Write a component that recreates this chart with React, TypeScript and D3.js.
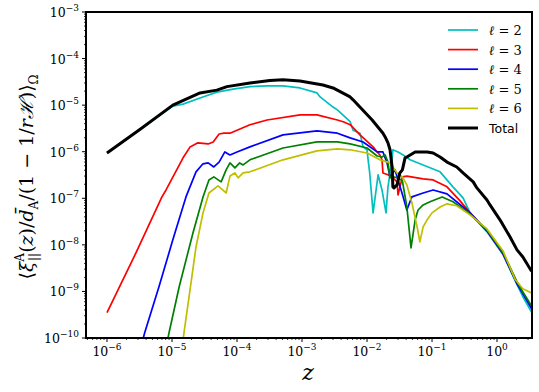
import React from 'react';
import * as d3 from 'd3';

// z grid and values for each multipole
const zL2 = [1.0e-6, 3.2e-6, 1.03e-5, 1.48e-5, 2.7e-5, 4.9e-5, 8.7e-5, 1.58e-4, 2.9e-4, 5.1e-4, 9.3e-4, 1.7e-3, 1.9e-3, 3.0e-3, 3.5e-3, 5.5e-3, 6.1e-3, 7.8e-3, 8.7e-3, 1.0e-2, 1.04e-2, 1.1e-2, 1.24e-2, 1.48e-2, 1.7e-2, 1.96e-2, 2.1e-2, 2.43e-2, 2.5e-2, 3.0e-2, 3.6e-2, 4.6e-2, 7.3e-2, 0.133, 0.21, 0.30, 0.385, 0.70, 1.24, 2.03, 2.5, 3.4];
const xiL2 = [9.4e-7, 3.0e-6, 9.5e-6, 1.05e-5, 1.42e-5, 1.9e-5, 2.2e-5, 2.5e-5, 2.6e-5, 2.6e-5, 2.34e-5, 1.83e-5, 1.5e-5, 9.1e-6, 7.9e-6, 4.4e-6, 2.9e-6, 2.5e-6, 1.27e-6, 1.1e-6, 6.7e-7, 3.5e-7, 4.86e-8, 3.2e-7, 1.51e-7, 4.86e-8, 1.76e-7, 6.7e-7, 1.1e-6, 9.9e-7, 8.5e-7, 6.7e-7, 5.2e-7, 3.7e-7, 1.76e-7, 1.02e-7, 4.86e-8, 1.9e-8, 6.1e-9, 1.4e-9, 7.7e-10, 3.6e-10];

const zL3 = [1.0e-6, 2.8e-6, 7.0e-6, 8.1e-6, 1.48e-5, 1.9e-5, 2.5e-5, 3.6e-5, 4.3e-5, 5.3e-5, 6.3e-5, 7.8e-5, 1.0e-4, 1.58e-4, 2.9e-4, 9.3e-4, 1.7e-3, 3.5e-3, 4.3e-3, 5.5e-3, 7.8e-3, 1.24e-2, 1.43e-2, 1.58e-2, 1.7e-2, 1.76e-2, 2.1e-2, 2.5e-2, 2.9e-2, 3.0e-2, 3.5e-2, 4.1e-2, 7.3e-2, 0.104, 0.17, 0.27, 0.385, 0.70, 1.24, 2.03, 2.5, 3.4];
const xiL3 = [3.5e-10, 6.8e-9, 1.07e-7, 1.51e-7, 7.4e-7, 1.27e-6, 1.55e-6, 1.47e-6, 1.62e-6, 2.4e-6, 2.5e-6, 2.5e-6, 2.9e-6, 3.8e-6, 4.8e-6, 6.2e-6, 6.2e-6, 4.8e-6, 4.4e-6, 3.8e-6, 2.3e-6, 1.27e-6, 9.9e-7, 8.5e-7, 6.7e-7, 3.5e-7, 3.2e-7, 2.74e-7, 2.25e-7, 1.18e-7, 2.88e-7, 3.0e-7, 2.6e-7, 2.48e-7, 1.76e-7, 8.8e-8, 4.86e-8, 2.0e-8, 6.4e-9, 1.53e-9, 9.3e-10, 4.5e-10];

const zL4 = [2.3e-6, 3.8e-6, 6.3e-6, 1.03e-5, 1.64e-5, 2.34e-5, 3.0e-5, 3.6e-5, 4.4e-5, 5.3e-5, 6.5e-5, 7.8e-5, 1.0e-4, 1.58e-4, 5.1e-4, 1.7e-3, 3.5e-3, 5.5e-3, 8.7e-3, 1.43e-2, 1.76e-2, 2.03e-2, 2.26e-2, 2.7e-2, 3.0e-2, 3.6e-2, 4.1e-2, 4.9e-2, 7.3e-2, 0.104, 0.17, 0.30, 0.385, 0.70, 1.24, 2.03, 2.5, 3.4];
const xiL4 = [9e-12, 1.3e-10, 1.26e-9, 1.28e-8, 1.07e-7, 3.7e-7, 5.5e-7, 5.75e-7, 4.7e-7, 6.0e-7, 9.9e-7, 8.5e-7, 9.9e-7, 1.27e-6, 2.3e-6, 2.8e-6, 2.5e-6, 1.98e-6, 1.62e-6, 9.9e-7, 9.9e-7, 5.75e-7, 2.88e-7, 4.07e-7, 2.48e-7, 1.07e-7, 5.6e-8, 1.07e-7, 1.3e-7, 1.51e-7, 1.24e-7, 6.5e-8, 4.86e-8, 2.0e-8, 6.4e-9, 1.45e-9, 8.9e-10, 4.3e-10];

const zL5 = [6e-6, 9.0e-6, 1.29e-5, 2.1e-5, 3.0e-5, 3.7e-5, 4.4e-5, 5.7e-5, 6.8e-5, 7.8e-5, 9.3e-5, 1.1e-4, 1.24e-4, 1.58e-4, 5.1e-4, 1.7e-3, 3.5e-3, 5.5e-3, 1.0e-2, 1.43e-2, 1.7e-2, 1.9e-2, 2.1e-2, 2.26e-2, 2.5e-2, 3.0e-2, 3.5e-2, 4.1e-2, 4.75e-2, 5.5e-2, 6.1e-2, 7.3e-2, 9.3e-2, 0.143, 0.21, 0.35, 0.70, 1.24, 2.03, 2.5, 3.4];
const xiL5 = [7e-12, 1.3e-10, 1.26e-9, 1.8e-8, 1.07e-7, 2.48e-7, 2.88e-7, 2.25e-7, 4.07e-7, 5.75e-7, 4.5e-7, 5.75e-7, 5.2e-7, 6.7e-7, 1.2e-6, 1.62e-6, 1.62e-6, 1.47e-6, 1.2e-6, 8.1e-7, 7.7e-7, 8.5e-7, 6.0e-7, 2.74e-7, 2.88e-7, 2.74e-7, 2.36e-7, 6.5e-8, 8.6e-9, 3.45e-8, 5.6e-8, 7.2e-8, 8.4e-8, 1.07e-7, 8.4e-8, 5.1e-8, 2.1e-8, 6.8e-9, 1.6e-9, 9.7e-10, 4.9e-10];

const zL6 = [1.2e-5, 1.53e-5, 1.82e-5, 2.34e-5, 3.0e-5, 3.7e-5, 5.1e-5, 6.8e-5, 7.8e-5, 9.3e-5, 1.04e-4, 1.24e-4, 1.58e-4, 5.1e-4, 1.7e-3, 3.5e-3, 5.5e-3, 1.0e-2, 1.58e-2, 2.26e-2, 2.9e-2, 3.5e-2, 4.1e-2, 4.9e-2, 5.9e-2, 6.5e-2, 7.3e-2, 8.4e-2, 0.10, 0.133, 0.17, 0.24, 0.385, 0.70, 1.24, 1.9, 2.5, 3.4];
const xiL6 = [9e-12, 1.3e-10, 7.3e-10, 9.0e-9, 4.86e-8, 1.3e-7, 1.85e-7, 1.3e-7, 3.0e-7, 3.5e-7, 2.74e-7, 3.5e-7, 3.7e-7, 6.7e-7, 1.04e-6, 1.15e-6, 1.1e-6, 9.4e-7, 6.7e-7, 5.75e-7, 3.5e-7, 2.88e-7, 1.94e-7, 8.0e-8, 2.43e-8, 1.16e-8, 2.43e-8, 3.45e-8, 4.86e-8, 6.5e-8, 7.6e-8, 6.9e-8, 4.4e-8, 2.2e-8, 7.4e-9, 1.8e-9, 1.14e-9, 9.3e-10];

const zTotal = [1.0e-6, 3.2e-6, 1.03e-5, 2.7e-5, 4.9e-5, 7.0e-5, 1.58e-4, 3.2e-4, 5.1e-4, 9.3e-4, 2.1e-3, 3.0e-3, 5.5e-3, 6.1e-3, 1.2e-2, 1.76e-2, 1.9e-2, 2.1e-2, 2.26e-2, 2.43e-2, 2.5e-2, 2.6e-2, 2.9e-2, 3.2e-2, 3.5e-2, 3.85e-2, 4.1e-2, 5.5e-2, 8.4e-2, 0.104, 0.133, 0.17, 0.24, 0.30, 0.43, 0.49, 0.70, 0.78, 1.11, 1.58, 2.03, 2.5, 3.4];
const xiTotal = [9.4e-7, 3.0e-6, 1.0e-5, 1.83e-5, 2.1e-5, 2.5e-5, 3.0e-5, 3.4e-5, 3.5e-5, 3.3e-5, 2.7e-5, 2.34e-5, 1.5e-5, 1.3e-5, 4.8e-6, 2.5e-6, 2.08e-6, 1.55e-6, 1.1e-6, 4.7e-7, 1.76e-7, 1.67e-7, 1.94e-7, 3.5e-7, 4.07e-7, 7.4e-7, 7.7e-7, 9.9e-7, 9.9e-7, 9.4e-7, 7.7e-7, 6.0e-7, 4.7e-7, 3.5e-7, 2.25e-7, 1.67e-7, 9.2e-8, 7.2e-8, 3.45e-8, 1.49e-8, 7.8e-9, 5.5e-9, 2.7e-9];

const seriesNames = ['2', '3', '4', '5', '6', 'Total'];
const seriesColors = ['#00bfbf', '#ff0000', '#0000ff', '#008000', '#bfbf00', '#000000'];
const seriesWidths = [1.7, 1.7, 1.7, 1.7, 1.7, 3];
const seriesZ = [zL2, zL3, zL4, zL5, zL6, zTotal];
const seriesXi = [xiL2, xiL3, xiL4, xiL5, xiL6, xiTotal];

const xTickExps = [-6, -5, -4, -3, -2, -1, 0];
const yTickExps = [-10, -9, -8, -7, -6, -5, -4, -3];

const W = 539, H = 392;
const left = 86, right = 532, top = 12, bottom = 338;

const serif = { fontFamily: '"DejaVu Serif", "Liberation Serif", serif' };
const sans = { fontFamily: '"DejaVu Sans", sans-serif' };

const expText = (e: number) => (e < 0 ? '\u2212' + Math.abs(e) : String(e));

export default function App() {
  const x = d3.scaleLog().domain([Math.pow(10, -6.323), Math.pow(10, 0.538)]).range([left, right]);
  const y = d3.scaleLog().domain([1e-10, 1e-3]).range([bottom, top]);

  const line = d3.line<[number, number]>()
    .x(d => x(d[0]))
    .y(d => y(d[1]));

  const minorX: number[] = [];
  const minorY: number[] = [];
  for (let e = -7; e <= 0; e++) {
    for (let m = 2; m <= 9; m++) {
      const v = m * Math.pow(10, e);
      if (v > x.domain()[0] && v < x.domain()[1]) minorX.push(v);
    }
  }
  for (let e = -10; e < -3; e++) {
    for (let m = 2; m <= 9; m++) minorY.push(m * Math.pow(10, e));
  }

  return (
    <svg width={W} height={H} style={{ position: 'absolute', left: 0, top: 0, background: '#fff' }}>
      <defs>
        <clipPath id="plot">
          <rect x={left} y={top} width={right - left} height={bottom - top} />
        </clipPath>
      </defs>

      <g clipPath="url(#plot)" fill="none" strokeLinejoin="round">
        {seriesNames.map((n, i) => (
          <path key={n}
            d={line(seriesZ[i].map((z, j) => [z, seriesXi[i][j]] as [number, number])) || ''}
            stroke={seriesColors[i]} strokeWidth={seriesWidths[i]} />
        ))}
      </g>

      {/* frame */}
      <rect x={left} y={top} width={right - left} height={bottom - top} fill="none" stroke="#000" strokeWidth={2} />

      {/* x ticks */}
      {xTickExps.map(e => (
        <g key={e}>
          <line x1={x(Math.pow(10, e))} x2={x(Math.pow(10, e))} y1={bottom} y2={bottom + 4} stroke="#000" />
          <text x={x(Math.pow(10, e))} y={bottom + 18} textAnchor="middle" style={serif} fontSize={12.5}>
            10<tspan dy={-6} fontSize={9}>{expText(e)}</tspan>
          </text>
        </g>
      ))}
      {minorX.map((v, i) => (
        <line key={i} x1={x(v)} x2={x(v)} y1={bottom} y2={bottom + 2} stroke="#000" strokeWidth={0.8} />
      ))}

      {/* y ticks */}
      {yTickExps.map(e => (
        <g key={e}>
          <line x1={left - 4} x2={left} y1={y(Math.pow(10, e))} y2={y(Math.pow(10, e))} stroke="#000" />
          <text x={79} y={y(Math.pow(10, e)) + 5} textAnchor="end" style={serif} fontSize={12.5}>
            10<tspan dy={-6} fontSize={9}>{expText(e)}</tspan>
          </text>
        </g>
      ))}
      {minorY.map((v, i) => (
        <line key={i} x1={left - 2} x2={left} y1={y(v)} y2={y(v)} stroke="#000" strokeWidth={0.8} />
      ))}

      {/* axis labels */}
      <text x={308} y={380} textAnchor="middle" style={serif} fontStyle="italic" fontSize={22}>z</text>
      <text transform="translate(33,177) rotate(-90)" textAnchor="middle" style={serif} fontSize={19}>
        <tspan>⟨</tspan>
        <tspan fontStyle="italic">ξ</tspan>
        <tspan fontSize={12} dy={-9}>A</tspan>
        <tspan fontSize={12} dx={-8} dy={14}>||</tspan>
        <tspan dy={-5}>(</tspan>
        <tspan fontStyle="italic">z</tspan>
        <tspan>)/</tspan>
        <tspan fontStyle="italic">d̄</tspan>
        <tspan fontSize={12} dy={5}>A</tspan>
        <tspan dy={-5}>/(1 − 1/</tspan>
        <tspan fontStyle="italic">r</tspan>
        <tspan fontStyle="italic">ℋ</tspan>
        <tspan>)⟩</tspan>
        <tspan fontSize={12} dy={5}>Ω</tspan>
      </text>

      {/* legend */}
      {seriesNames.map((n, i) => (
        <g key={n} transform={`translate(0,${30 + i * 19.6})`}>
          <line x1={448} x2={478} y1={0} y2={0} stroke={seriesColors[i]} strokeWidth={seriesWidths[i]} />
          {n === 'Total'
            ? <text x={489} y={5} style={sans} fontSize={12.5}>Total</text>
            : <text x={489} y={5} style={serif} fontSize={13}>
                <tspan fontStyle="italic">ℓ</tspan> = {n}
              </text>}
        </g>
      ))}
    </svg>
  );
}
